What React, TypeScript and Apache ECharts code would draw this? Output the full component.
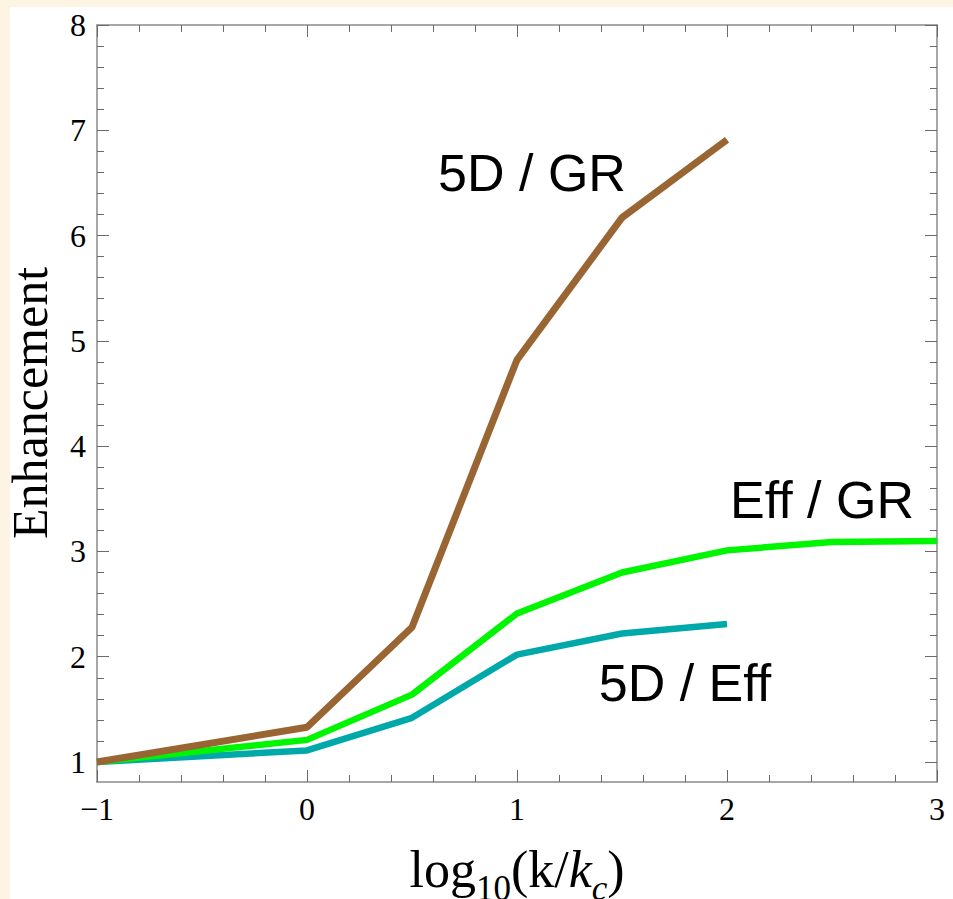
import React, { useEffect, useRef } from "react";
import * as echarts from "echarts";

// Axis ticks
const xMajorTicks = [-1, 0, 1, 2, 3];
const yMajorTicks = [1, 2, 3, 4, 5, 6, 7, 8];
const yMinorTicks = [
  1.2, 1.4, 1.6, 1.8, 2.2, 2.4, 2.6, 2.8, 3.2, 3.4, 3.6, 3.8, 4.2, 4.4, 4.6, 4.8,
  5.2, 5.4, 5.6, 5.8, 6.2, 6.4, 6.6, 6.8, 7.2, 7.4, 7.6, 7.8,
];

// Series: 5D / GR (brown)
const x5dGr = [-1, 0, 0.5, 1, 1.5, 2];
const y5dGr = [1.0, 1.33, 2.28, 4.82, 6.17, 6.91];
// Series: Eff / GR (green)
const xEffGr = [-1, 0, 0.5, 1, 1.5, 2, 2.5, 3];
const yEffGr = [1.0, 1.21, 1.64, 2.41, 2.8, 3.01, 3.09, 3.1];
// Series: 5D / Eff (teal)
const x5dEff = [-1, 0, 0.5, 1, 1.5, 2];
const y5dEff = [1.0, 1.11, 1.42, 2.02, 2.22, 2.31];

const labels = ["5D / GR", "Eff / GR", "5D / Eff"];

const zip = (xs: number[], ys: number[]) => xs.map((x, i) => [x, ys[i]]);

const SERIF = "'Liberation Serif', 'Times New Roman', serif";
const SANS = "'Liberation Sans', Arial, sans-serif";
const FRAME = "#8a8a8a";
const TICK = "#6a6a6a";

export default function App() {
  const ref = useRef<HTMLDivElement>(null);
  useEffect(() => {
    if (!ref.current) return;
    const chart = echarts.init(ref.current, undefined, { renderer: "svg" });
    const yMin = 0.81;
    const yMax = 8;
    const common = {
      type: "value" as const,
      splitLine: { show: false },
    };
    const xAxisBase = {
      ...common,
      min: -1,
      max: 3,
      interval: 1,
      axisLine: { show: true, onZero: false, lineStyle: { color: FRAME, width: 1.5 } },
      axisTick: { show: true, inside: true, length: 12, lineStyle: { color: TICK, width: 1 } },
      minorTick: { show: true, splitNumber: 5, length: 7, lineStyle: { color: TICK, width: 1 } },
    };
    const yMajorBase = {
      ...common,
      min: yMin,
      max: yMax,
      axisLine: { show: true, onZero: false, lineStyle: { color: FRAME, width: 1.5 } },
      axisTick: {
        show: true,
        inside: true,
        length: 12,
        customValues: yMajorTicks,
        lineStyle: { color: TICK, width: 1 },
      },
    };
    const yMinorBase = {
      ...common,
      min: yMin,
      max: yMax,
      axisLine: { show: false, onZero: false },
      axisTick: {
        show: true,
        inside: true,
        length: 7,
        customValues: yMinorTicks,
        lineStyle: { color: TICK, width: 1 },
      },
      axisLabel: { show: false },
    };
    chart.setOption({
      animation: false,
      backgroundColor: "#fdf4e3",
      grid: { left: 97, right: 16, top: 25, bottom: 117 },
      xAxis: [
        {
          ...xAxisBase,
          position: "bottom",
          axisLabel: {
            show: true,
            margin: 11,
            color: "#000",
            fontFamily: SERIF,
            fontSize: 32,
            formatter: (v: number) => (v < 0 ? "\u2212" + Math.abs(v) : String(v)),
            customValues: xMajorTicks,
          },
        },
        {
          ...xAxisBase,
          position: "top",
          axisLabel: { show: false },
        },
      ],
      yAxis: [
        {
          ...yMajorBase,
          position: "left",
          axisLabel: {
            show: true,
            margin: 11,
            color: "#000",
            fontFamily: SERIF,
            fontSize: 32,
            customValues: yMajorTicks,
          },
        },
        { ...yMinorBase, position: "left" },
        { ...yMajorBase, position: "right", axisLabel: { show: false } },
        { ...yMinorBase, position: "right" },
      ],
      series: [
        {
          name: labels[2],
          type: "line",
          xAxisIndex: 0,
          yAxisIndex: 0,
          data: zip(x5dEff, y5dEff),
          symbol: "none",
          lineStyle: { color: "#00a9a9", width: 6.5 },
          z: 3,
        },
        {
          name: labels[1],
          type: "line",
          xAxisIndex: 0,
          yAxisIndex: 0,
          data: zip(xEffGr, yEffGr),
          symbol: "none",
          lineStyle: { color: "#00f500", width: 6.5 },
          z: 4,
        },
        {
          name: labels[0],
          type: "line",
          xAxisIndex: 0,
          yAxisIndex: 0,
          data: zip(x5dGr, y5dGr),
          symbol: "none",
          lineStyle: { color: "#996633", width: 7 },
          z: 5,
        },
      ],
      graphic: [
        {
          type: "rect",
          z: -100,
          silent: true,
          shape: { x: 10, y: 7, width: 943, height: 892 },
          style: { fill: "#ffffff" },
        },
        {
          type: "text",
          x: 532,
          y: 173,
          style: { text: labels[0], fontFamily: SANS, fontSize: 52, fill: "#000", align: "center", verticalAlign: "middle" },
        },
        {
          type: "text",
          x: 822,
          y: 500,
          style: { text: labels[1], fontFamily: SANS, fontSize: 52, fill: "#000", align: "center", verticalAlign: "middle" },
        },
        {
          type: "text",
          x: 685,
          y: 683,
          style: { text: labels[2], fontFamily: SANS, fontSize: 52, fill: "#000", align: "center", verticalAlign: "middle" },
        },
        {
          type: "text",
          x: 30,
          y: 403,
          rotation: Math.PI / 2,
          style: { text: "Enhancement", fontFamily: SERIF, fontSize: 50, fill: "#000", align: "center", verticalAlign: "middle" },
        },
        {
          type: "text",
          x: 517,
          y: 832,
          style: {
            text: "{m|log}{s|10}{m|(k/}{i|k}{si|c}{m|)}",
            align: "center",
            verticalAlign: "top",
            fill: "#000",
            rich: {
              m: { fontFamily: SERIF, fontSize: 52, lineHeight: 74, fill: "#000" },
              i: { fontFamily: SERIF, fontSize: 52, fontStyle: "italic", lineHeight: 74, fill: "#000" },
              s: { fontFamily: SERIF, fontSize: 35, lineHeight: 34, verticalAlign: "bottom", fill: "#000" },
              si: { fontFamily: SERIF, fontSize: 35, fontStyle: "italic", lineHeight: 34, verticalAlign: "bottom", fill: "#000" },
            },
          },
        },
      ],
    });
    return () => chart.dispose();
  }, []);
  return (
    <div
      ref={ref}
      style={{ position: "absolute", left: 0, top: 0, width: 953, height: 899 }}
    />
  );
}
